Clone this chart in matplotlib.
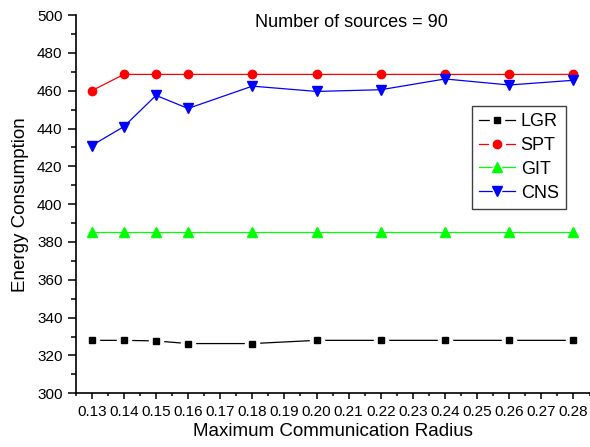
import matplotlib
matplotlib.use("Agg")
import matplotlib.pyplot as plt
from matplotlib.lines import Line2D
from matplotlib.legend_handler import HandlerTuple
from matplotlib.ticker import MultipleLocator

plt.rcParams['font.family'] = ['Liberation Sans', 'DejaVu Sans']

radius = [0.13, 0.14, 0.15, 0.16, 0.18, 0.20, 0.22, 0.24, 0.26, 0.28]
lgr = [328.0, 328.0, 327.7, 326.3, 326.3, 328.0, 328.0, 328.0, 328.0, 328.0]
spt = [460.0, 468.6, 468.6, 468.6, 468.6, 468.6, 468.6, 468.6, 468.6, 468.6]
git = [385.2, 385.2, 385.2, 385.2, 385.2, 385.2, 385.2, 385.2, 385.2, 385.2]
cns = [431.0, 441.0, 457.5, 450.6, 462.4, 459.6, 460.5, 466.2, 463.0, 465.5]

series = [
    ("LGR", lgr, "black", "s", 5),
    ("SPT", spt, "red", "o", 6),
    ("GIT", git, "#00ff00", "^", 7),
    ("CNS", cns, "blue", "v", 7),
]

fig = plt.figure(figsize=(5.9, 4.47), dpi=100)
ax = fig.add_axes([0.1283, 0.1201, 0.8709, 0.8463])

handles = []
for name, vals, col, mk, ms in series:
    ax.plot(radius, vals, color=col, lw=0.9, zorder=2)
    if name == "LGR":
        # white halo gives the gap in the line around each marker
        ax.plot(radius, vals, ls="none", marker=mk, ms=ms + 5, mfc="white", mec="white", zorder=3)
    ax.plot(radius, vals, ls="none", marker=mk, ms=ms, color=col, zorder=4)
    h_line = Line2D([], [], color=col, lw=0.9)
    h_halo = Line2D([], [], ls="none", marker=mk, ms=ms + 5, mfc="white", mec="white")
    h_mark = Line2D([], [], ls="none", marker=mk, ms=ms, color=col)
    handles.append((h_line, h_halo, h_mark))

ax.set_xlim(0.125, 0.285)
ax.set_ylim(300, 500)
ax.xaxis.set_minor_locator(MultipleLocator(0.005))
ax.yaxis.set_major_locator(MultipleLocator(20))
ax.yaxis.set_minor_locator(MultipleLocator(10))
ax.set_xticks([0.13 + 0.01 * i for i in range(16)])
ax.set_xticklabels(["%.2f" % (0.13 + 0.01 * i) for i in range(16)])

ax.spines['top'].set_visible(False)
ax.spines['right'].set_visible(False)
ax.spines['left'].set_linewidth(1.2)
ax.spines['bottom'].set_linewidth(1.2)
ax.tick_params(axis='both', which='major', labelsize=11, width=1.1)
ax.tick_params(axis='x', which='major', length=4.5, pad=4)
ax.tick_params(axis='x', which='minor', length=2.5, width=1.1)
ax.tick_params(axis='y', which='major', length=6, pad=3.5)
ax.tick_params(axis='y', which='minor', length=3.5, width=1.1)

ax.set_xlabel("Maximum Communication Radius", fontsize=13.5, labelpad=3)
ax.set_ylabel("Energy Consumption", fontsize=13.5, labelpad=6)

ax.text(0.536, 0.9815, "Number of sources = 90", transform=ax.transAxes,
        ha="center", va="center", fontsize=13)

leg = ax.legend(handles, [s[0] for s in series], loc="upper right",
                bbox_to_anchor=(0.954, 0.760), borderaxespad=0, fontsize=13,
                handler_map={tuple: HandlerTuple(ndivide=1)},
                handlelength=2.0, handletextpad=0.3, labelspacing=0.38,
                borderpad=0.4, fancybox=False, edgecolor="#404040", framealpha=1)
leg.get_frame().set_linewidth(1.0)

fig.savefig("out.png", dpi=100)
